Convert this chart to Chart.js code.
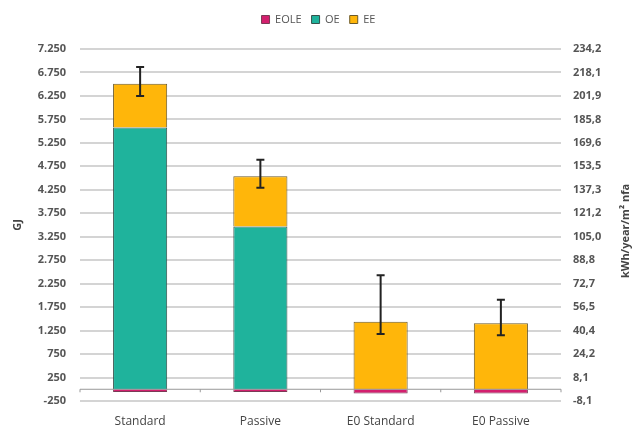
<!DOCTYPE html>
<html>
<head>
<meta charset="utf-8">
<script src="https://cdn.jsdelivr.net/npm/chart.js"></script>
<style>
  html, body { margin: 0; padding: 0; background: #fff; }
  #wrap { width: 637px; height: 430px; }
</style>
</head>
<body>
<div id="wrap"><canvas id="chart"></canvas></div>
<script>
const categories = ['Standard', 'Passive', 'E0 Standard', 'E0 Passive'];
const eole = [-60, -60, -90, -90];
const oe = [5580, 3470, 0, 0];
const ee = [930, 1070, 1440, 1405];
const errHigh = [6865, 4890, 2430, 1905];
const errLow = [6250, 4295, 1180, 1150];
const leftTicks = [-250, 250, 750, 1250, 1750, 2250, 2750, 3250, 3750, 4250, 4750, 5250, 5750, 6250, 6750, 7250];
const leftTickLabels = ['-250', '250', '750', '1.250', '1.750', '2.250', '2.750', '3.250', '3.750', '4.250', '4.750', '5.250', '5.750', '6.250', '6.750', '7.250'];
const rightTickLabels = ['-8,1', '8,1', '24,2', '40,4', '56,5', '72,7', '88,8', '105,0', '121,2', '137,3', '153,5', '169,6', '185,8', '201,9', '218,1', '234,2'];
const rightTitle = 'kWh/year/m² nfa';

const textColor = '#555';
const fontFamily = '"Open Sans", "Noto Sans", sans-serif';

// more room under the legend
const legendGap = {
    id: 'legendGap',
    beforeInit(chart) {
        const fit = chart.legend.fit;
        chart.legend.fit = function() {
            fit.bind(chart.legend)();
            this.height += 14;
        };
    }
};

// zero line, category ticks, error bars, right axis title
const extras = {
    id: 'extras',
    afterDatasetsDraw(chart) {
        const ctx = chart.ctx;
        const x = chart.scales.x;
        const y = chart.scales.y;
        const y0 = y.getPixelForValue(0);
        ctx.save();
        ctx.strokeStyle = '#999';
        ctx.lineWidth = 1;
        ctx.beginPath();
        ctx.moveTo(chart.chartArea.left, y0);
        ctx.lineTo(chart.chartArea.right, y0);
        for (let i = 0; i <= categories.length; i++) {
            const px = x.getPixelForValue(i - 0.5);
            ctx.moveTo(px, y0);
            ctx.lineTo(px, y0 + 3);
        }
        ctx.stroke();

        ctx.strokeStyle = '#222';
        ctx.lineWidth = 2;
        for (let i = 0; i < categories.length; i++) {
            const px = x.getPixelForValue(i);
            const top = y.getPixelForValue(errHigh[i]);
            const bot = y.getPixelForValue(errLow[i]);
            ctx.beginPath();
            ctx.moveTo(px, top);
            ctx.lineTo(px, bot);
            ctx.moveTo(px - 4, top);
            ctx.lineTo(px + 4, top);
            ctx.moveTo(px - 4, bot);
            ctx.lineTo(px + 4, bot);
            ctx.stroke();
        }

        const area = chart.chartArea;
        ctx.translate(626, (area.top + area.bottom) / 2 + 6);
        ctx.rotate(-Math.PI / 2);
        ctx.fillStyle = '#444';
        ctx.font = 'bold 11px ' + fontFamily;
        ctx.textAlign = 'center';
        ctx.textBaseline = 'middle';
        ctx.fillText(rightTitle, 0, 0);
        ctx.restore();
    }
};

new Chart(document.getElementById('chart'), {
    type: 'bar',
    data: {
        labels: categories,
        datasets: [
            { label: 'EOLE', data: eole, backgroundColor: '#d31f6e', borderColor: '#7a3b55', borderWidth: 1 },
            { label: 'OE', data: oe, backgroundColor: '#1fb39c', borderColor: '#35524c', borderWidth: 1 },
            { label: 'EE', data: ee, backgroundColor: '#ffb60a', borderColor: '#6b5a2a', borderWidth: 1 }
        ]
    },
    options: {
        responsive: true,
        maintainAspectRatio: false,
        animation: false,
        categoryPercentage: 0.9,
        barPercentage: 0.5,
        layout: { padding: { top: 4, right: 0, bottom: 2, left: 0 } },
        plugins: {
            legend: {
                display: true,
                position: 'top',
                labels: {
                    boxWidth: 8,
                    boxHeight: 8,
                    padding: 10,
                    color: textColor,
                    font: { family: fontFamily, size: 11 }
                }
            },
            tooltip: { enabled: false }
        },
        scales: {
            x: {
                stacked: true,
                grid: { display: false },
                border: { display: false },
                ticks: { color: '#444', padding: 5, font: { family: fontFamily, size: 12 } },
                afterFit: function(scale) { scale.height = 27; }
            },
            y: {
                stacked: true,
                position: 'left',
                min: -250,
                max: 7250,
                afterBuildTicks: function(scale) {
                    scale.ticks = leftTicks.map(v => ({ value: v }));
                },
                ticks: {
                    color: textColor,
                    padding: 14,
                    font: { family: fontFamily, size: 11, weight: 'bold' },
                    callback: function(value, index) { return leftTickLabels[index]; }
                },
                grid: { color: '#d4d4d4', lineWidth: 2, drawTicks: false },
                border: { display: false },
                title: {
                    display: true,
                    text: 'GJ',
                    color: '#444',
                    padding: { top: 11, bottom: 0 },
                    font: { family: fontFamily, size: 11, weight: 'bold' }
                },
                afterFit: function(scale) { scale.width = 80; }
            },
            y2: {
                position: 'right',
                min: -250,
                max: 7250,
                afterBuildTicks: function(scale) {
                    scale.ticks = leftTicks.map(v => ({ value: v }));
                },
                ticks: {
                    color: textColor,
                    padding: 12,
                    font: { family: fontFamily, size: 11, weight: 'bold' },
                    callback: function(value, index) { return rightTickLabels[index]; }
                },
                grid: { display: false, drawTicks: false },
                border: { display: false },
                afterFit: function(scale) { scale.width = 76; }
            }
        }
    },
    plugins: [legendGap, extras]
});
</script>
</body>
</html>
